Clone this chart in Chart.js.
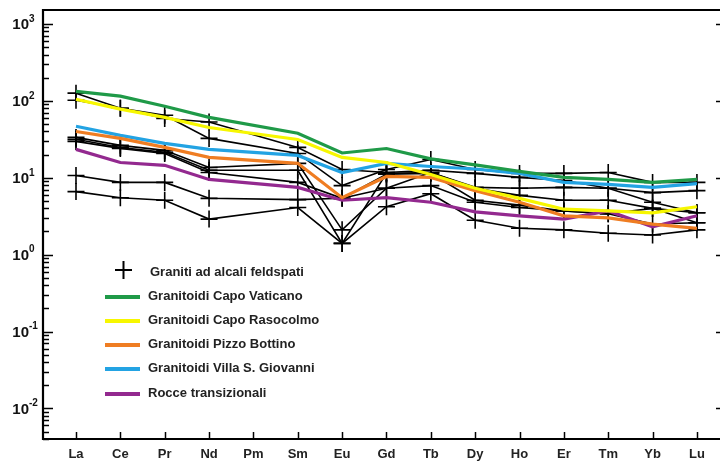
<!DOCTYPE html>
<html>
<head>
<meta charset="utf-8">
<script src="https://cdn.jsdelivr.net/npm/chart.js@4"></script>
<style>
html,body{margin:0;padding:0;background:#fff;}
#wrap{width:720px;height:463px;position:relative;}
</style>
</head>
<body>
<div id="wrap"><canvas id="c" width="720" height="463"></canvas></div>
<script>
// Categories (REE)
const elements = ['La','Ce','Pr','Nd','Pm','Sm','Eu','Gd','Tb','Dy','Ho','Er','Tm','Yb','Lu'];

// Coloured series (chondrite-normalised)
const capoVaticano       = [133, 115, 85, 61, null, 38, 21, 24, 17.6, 14.7, 12.1, 10.1, 9.5, 8.7, 9.5];
const capoRasocolmo      = [105, 78, 61, 45, null, 31.5, 18.4, 15.8, 11, 7.3, 5.4, 3.9, 3.7, 3.5, 4.2];
const pizzoBottino       = [40, 32.5, 24.8, 18.4, null, 15.4, 5.5, 10.4, 10.1, 6.8, 4.8, 3.2, 3.0, 2.5, 2.2];
const villaSGiovanni     = [46.7, 35.6, 28, 23.4, null, 19.5, 11.7, 15.4, 14, 13, 11.4, 8.7, 8.2, 7.5, 8.4];
const rocceTransizionali = [23.4, 15.8, 14.5, 9.5, null, 7.5, 5.1, 5.5, 4.8, 3.6, 3.2, 2.9, 3.7, 2.3, 3.2];

// Graniti ad alcali feldspati (individual samples)
const granitoA = [126, 80, 65, 32.5, null, 20.7, 7.9, 12.8, 17.3, 12.8, 11.4, 11.4, 11.7, 8.7, 8.7];
const granitoB = [102, 80, 59, 53, null, 24.8, 12.8, 11.7, 12.5, 11.4, 10.1, 9.2, 7.3, 6.4, 6.8];
const granitoC = [33.5, 26.4, 22.7, 13.6, null, 15.4, 2.1, 7.3, 11.7, 7.5, 7.3, 7.5, 7.3, 4.8, 3.5];
const granitoD = [31.6, 24.8, 21.4, 12.5, null, 12.5, 1.4, 11.4, 11.7, 7.3, 5.9, 5.1, 5.1, 4.0, 3.5];
const granitoE = [10.7, 8.7, 8.7, 5.4, null, 5.2, 5.4, 7.3, 7.9, 4.8, 4.1, 3.7, 3.4, 2.5, 2.6];
const granitoF = [6.6, 5.5, 5.1, 2.9, null, 4.1, 1.4, 4.2, 6.2, 2.8, 2.2, 2.1, 1.9, 1.8, 2.1];
const granitoG = [29.7, 24.1, 20.7, 11.7, null, 8.7, 5.4, 11.1, 11.4, 5.1, 4.4, 3.7, 3.4, 4.0, 2.6];

// Y axis decade labels (exponents)
const decadeExponents = ['-2','-1','0','1','2','3'];

const legendNames = ['Graniti ad alcali feldspati','Granitoidi Capo Vaticano','Granitoidi Capo Rasocolmo','Granitoidi Pizzo Bottino','Granitoidi Villa S. Giovanni','Rocce transizionali'];
const colours = ['#000000','#1f9a48','#f7f700','#ef7d22','#23a3e3','#93298f'];

const FONT = "'Liberation Sans', Arial, Helvetica, sans-serif";
const toXY = arr => arr.map((v,i)=>({x:i, y:v}));

const coloured = [capoVaticano, capoRasocolmo, pizzoBottino, villaSGiovanni, rocceTransizionali];
const blacks = [granitoA, granitoB, granitoC, granitoD, granitoE, granitoF, granitoG];

const datasets = [];
coloured.forEach((arr, k) => {
  datasets.push({
    label: legendNames[k+1], data: toXY(arr), borderColor: colours[k+1],
    borderWidth: 3.2, pointRadius: 0, spanGaps: true, tension: 0, fill: false
  });
});
blacks.forEach((arr, k) => {
  datasets.push({
    label: legendNames[0] + ' ' + (k+1), data: toXY(arr), borderColor: '#000',
    borderWidth: 1.6, pointStyle: 'cross', pointRadius: 8.5, pointBorderWidth: 1.6,
    pointBorderColor: '#000', spanGaps: true, tension: 0, fill: false
  });
});

const deco = {
  id: 'deco',
  afterDraw(chart) {
    const {ctx, chartArea: a, scales: {x, y}} = chart;
    ctx.save();
    ctx.strokeStyle = '#000';
    ctx.lineWidth = 2.2;
    ctx.beginPath();
    ctx.moveTo(a.right + 2, a.top); ctx.lineTo(a.left, a.top);
    ctx.lineTo(a.left, a.bottom); ctx.lineTo(a.right + 2, a.bottom);
    ctx.stroke();

    // y ticks
    ctx.lineWidth = 1.5;
    for (let k = -3; k <= 3; k++) {
      for (let m = 1; m <= 9; m++) {
        const v = m * Math.pow(10, k);
        if (v < y.min || v > y.max) continue;
        const p = Math.round(y.getPixelForValue(v)) + 0.5;
        ctx.beginPath();
        ctx.moveTo(a.left, p); ctx.lineTo(a.left + (m === 1 ? 10 : 6), p);
        if (m === 1) { ctx.moveTo(a.right, p); ctx.lineTo(a.right - 4, p); }
        ctx.stroke();
      }
    }
    // x ticks
    elements.forEach((_, i) => {
      const p = Math.round(x.getPixelForValue(i)) + 0.5;
      ctx.beginPath(); ctx.moveTo(p, a.bottom); ctx.lineTo(p, a.bottom - 7); ctx.stroke();
    });

    // y labels 10^k
    ctx.fillStyle = '#111';
    decadeExponents.forEach(e => {
      const p = y.getPixelForValue(Math.pow(10, parseInt(e, 10)));
      ctx.font = 'bold 15px ' + FONT;
      ctx.textAlign = 'right'; ctx.textBaseline = 'middle';
      ctx.fillText('10', 29, p + 1);
      ctx.font = 'bold 10px ' + FONT;
      ctx.textAlign = 'left';
      ctx.fillText(e, 29, p - 5);
    });

    // legend
    const rows = [270, 296, 320, 344, 368, 393];
    ctx.font = 'bold 13px ' + FONT;
    ctx.textAlign = 'left'; ctx.textBaseline = 'middle';
    ctx.fillStyle = '#222';
    ctx.lineWidth = 2;
    ctx.beginPath();
    ctx.moveTo(115, rows[0]); ctx.lineTo(132, rows[0]);
    ctx.moveTo(123.5, rows[0] - 9); ctx.lineTo(123.5, rows[0] + 9);
    ctx.stroke();
    ctx.fillText(legendNames[0], 150, rows[0] + 2);
    for (let k = 1; k < legendNames.length; k++) {
      ctx.strokeStyle = colours[k];
      ctx.lineWidth = 4;
      ctx.beginPath(); ctx.moveTo(105, rows[k] + 1); ctx.lineTo(140, rows[k] + 1); ctx.stroke();
      ctx.fillText(legendNames[k], 148, rows[k]);
    }
    ctx.restore();
  }
};

new Chart(document.getElementById('c'), {
  type: 'line',
  data: { datasets },
  options: {
    responsive: false,
    animation: false,
    layout: { autoPadding: false, padding: { top: 10, right: 0, left: 0, bottom: 0 } },
    plugins: { legend: { display: false }, tooltip: { enabled: false } },
    scales: {
      x: {
        type: 'linear', min: -0.744, max: 14.52,
        grid: { display: false, drawTicks: false }, border: { display: false },
        afterBuildTicks: s => { s.ticks = elements.map((_, i) => ({ value: i })); },
        afterFit: s => { s.height = 24; s.paddingLeft = 0; s.paddingRight = 0; },
        ticks: {
          autoSkip: false, maxRotation: 0, padding: 8,
          color: '#222', font: { family: FONT, size: 13, weight: 'bold' },
          callback: v => elements[v] || ''
        }
      },
      y: {
        type: 'logarithmic', min: 0.004, max: 1520,
        grid: { display: false, drawTicks: false }, border: { display: false },
        ticks: { display: false },
        afterFit: s => { s.width = 43; s.paddingTop = 0; s.paddingBottom = 0; }
      }
    }
  },
  plugins: [deco]
});
</script>
</body>
</html>
